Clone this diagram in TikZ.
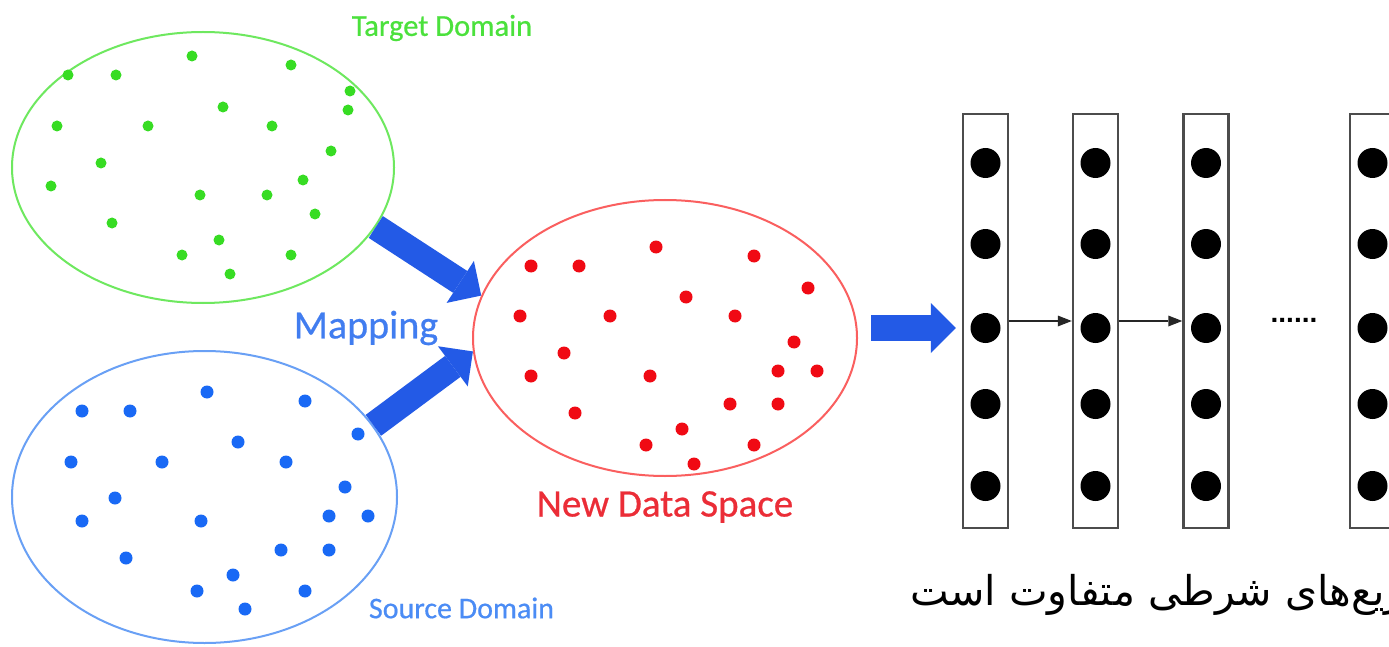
\documentclass[tikz,border=0pt]{standalone}
\usepackage{fontspec}
\setmainfont{Carlito}
\newfontfamily\labelfont{Carlito}[FakeBold=0.6]
\newfontfamily\farsifont[Script=Arabic]{DejaVu Sans}
\newfontfamily\dotsfont{Liberation Sans}
\TeXXeTstate=1
\usetikzlibrary{shapes.geometric,arrows.meta,calc}

\definecolor{tgreen}{RGB}{55,220,35}
\definecolor{tgreenline}{RGB}{110,232,95}
\definecolor{tgreentext}{RGB}{75,225,60}
\definecolor{sblue}{RGB}{25,105,245}
\definecolor{sblueline}{RGB}{105,160,245}
\definecolor{sbluetext}{RGB}{75,140,245}
\definecolor{nred}{RGB}{240,10,20}
\definecolor{nredline}{RGB}{250,95,95}
\definecolor{nredtext}{RGB}{235,45,55}
\definecolor{mapblue}{RGB}{35,90,230}
\definecolor{maptext}{RGB}{65,125,240}

\tikzset{
  dataspace/.style={ellipse, draw, line width=2pt, inner sep=0pt},
  colbox/.style={rectangle, draw=black!70, line width=2.5pt, minimum width=45pt,
    minimum height=414pt, inner sep=0pt},
  neuron/.style={circle, fill=black, minimum size=30pt, inner sep=0pt},
  bigarrow/.style={draw=mapblue, fill=mapblue, line width=26pt,
    -{Triangle[width=50pt 0 0, length=25pt 0 0, line width=0pt 0 0]}},
  linkarrow/.style={draw=black!85, line width=2pt,
    -{Triangle[width=11pt 0 0, length=14pt 0 0, line width=0pt 0 0]}},
  plaintext/.style={inner sep=0pt},
}

\begin{document}
\begin{tikzpicture}[x=1pt, y=-1pt]
\useasboundingbox[fill=white] (0,0) rectangle (1389,647);

% the three data spaces
\node[dataspace, draw=tgreenline, minimum width=382pt, minimum height=271pt] (tgt) at (203,167.5) {};
\node[dataspace, draw=sblueline, minimum width=385pt, minimum height=292pt] (src) at (204.5,497) {};
\node[dataspace, draw=nredline, minimum width=384pt, minimum height=276pt] (new) at (665,338) {};

% target samples
\foreach \p in {(68,75),(116,75),(192,56),(291,65),(350,91),(348,110),(223,107),
  (57,126),(148,126),(272,126),(331,151),(101,163),(51,186),(303,180),(200,195),
  (267,195),(315,214),(112,223),(219,240),(182,255),(291,255),(230,274)}
  \fill[tgreen] \p circle[radius=5.5pt];

% source samples
\foreach \p in {(207,392),(305,401),(82,411),(130,411),(358,434),(238,442),(71,462),
  (162,462),(286,462),(345,487),(115,498),(82,521),(201,521),(329,516),(368,516),
  (281,550),(329,550),(126,558),(233,575),(197,591),(305,591),(245,609)}
  \fill[sblue] \p circle[radius=6.5pt];

% mapped samples
\foreach \p in {(656,247),(754,256),(531,266),(579,266),(808,288),(686,297),(520,316),
  (610,316),(735,316),(794,342),(564,353),(531,376),(650,376),(778,371),(817,371),
  (730,404),(778,404),(575,413),(682,429),(646,445),(754,445),(694,464)}
  \fill[nred] \p circle[radius=6.5pt];

% labels
\node[plaintext, text=tgreentext, font=\labelfont\fontsize{30.5}{36}\selectfont] (ltgt) at (442,28) {Target Domain};
\node[plaintext, text=sbluetext, font=\labelfont\fontsize{30}{36}\selectfont] (lsrc) at (461.5,608) {Source Domain};
\node[plaintext, text=maptext, font=\labelfont\fontsize{40}{46}\selectfont] (lmap) at (366,328) {Mapping};
\node[plaintext, text=nredtext, font=\labelfont\fontsize{39}{46}\selectfont] (lnew) at (665,507) {New Data Space};

% layered network
\foreach \i/\x in {1/985.5,2/1095.5,3/1206,4/1372.5}{
  \node[colbox] (c\i) at (\x,321) {};
  \foreach \j/\y in {1/163,2/244,3/328,4/404,5/486}
    \node[neuron] (n\i\j) at (\x,\y) {};
}
\draw[linkarrow] (c1.east) -- (c2.west);
\draw[linkarrow] (c2.east) -- (c3.west);
\node[plaintext, font=\dotsfont\bfseries\fontsize{28}{32}\selectfont] (gap) at (1294,320) {......};

% mapping arrows
\draw[bigarrow] (tgt.-19) -- (new.167);
\draw[bigarrow] (src.23) -- (new.184.5);
\draw[bigarrow, shorten <=13pt, shorten >=6pt] (new.east |- n13) -- (c1.west |- n13);

% caption, running on past the right edge
\node[plaintext, anchor=base west, font=\farsifont\fontsize{41}{48}\selectfont] (cap) at (910,605)
  {\beginR توزیع‌های شرطی متفاوت است\endR};
\end{tikzpicture}
\end{document}
